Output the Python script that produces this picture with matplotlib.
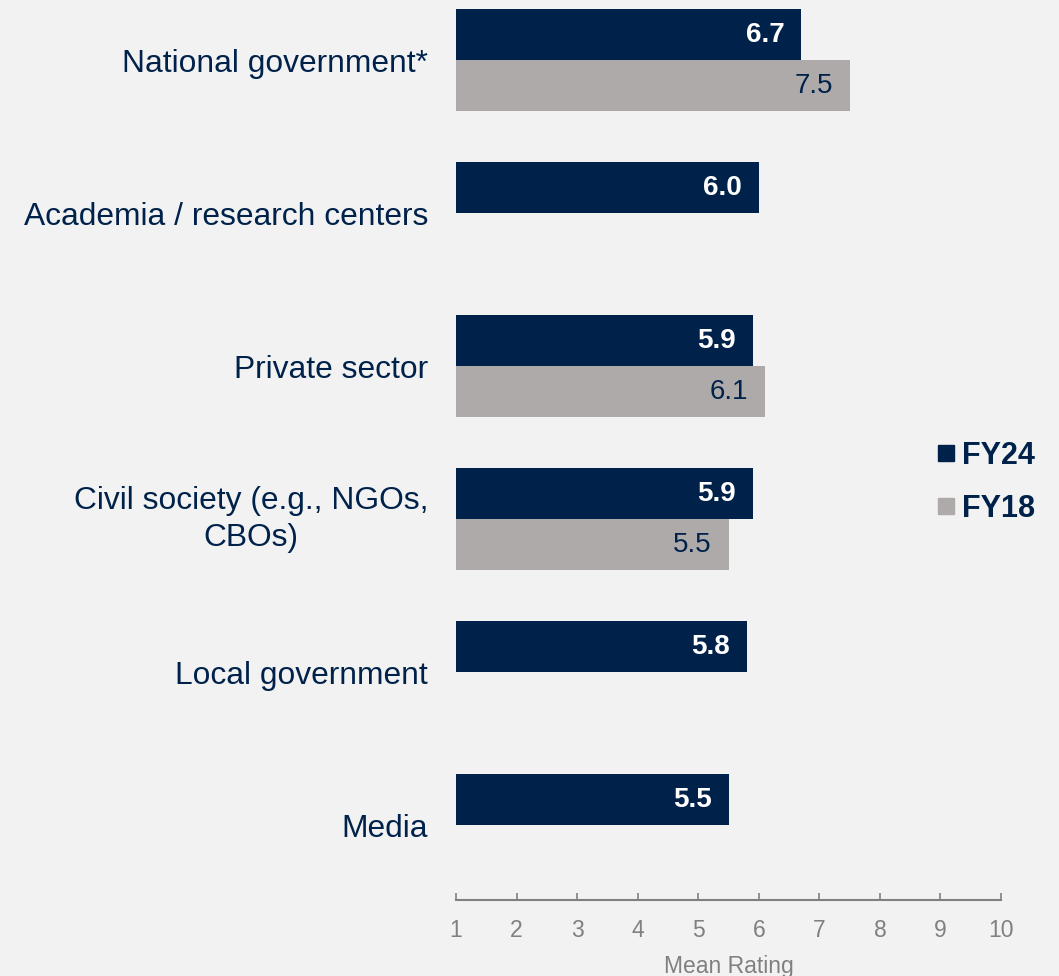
import numpy as np
from matplotlib import pyplot as plt
from matplotlib.lines import Line2D

categories = ['National government*', 'Academia / research centers', 'Private sector',
              'Civil society (e.g., NGOs,\nCBOs)', 'Local government', 'Media']
fy24 = [6.7, 6.0, 5.9, 5.9, 5.8, 5.5]
fy18 = [7.5, None, 6.1, 5.5, None, None]
ticks = [1, 2, 3, 4, 5, 6, 7, 8, 9, 10]

navy = '#00224a'
grey = '#aeaaaa'
axis_grey = '#808080'
bg = '#f2f2f2'

plt.rcParams['font.family'] = ['Liberation Sans', 'DejaVu Sans']

fig = plt.figure(figsize=(10.59, 9.76), dpi=100, facecolor=bg)
ax = fig.add_axes([456 / 1059, 76 / 976, 545 / 1059, 900 / 976])
ax.set_facecolor(bg)

y = np.arange(len(categories))
h = 1 / 3

# FY24 bars (top of each pair)
for i, v in enumerate(fy24):
    ax.barh(y[i] - h / 2, v - 1, left=1, height=h, color=navy)
    ax.annotate(f'{v:.1f}', (v, y[i] - h / 2), xytext=(-12, 0), textcoords='offset points',
                ha='right', va='center', color='white', fontsize=20, fontweight='bold')

# FY18 bars (below)
for i, v in enumerate(fy18):
    if v is None:
        continue
    ax.barh(y[i] + h / 2, v - 1, left=1, height=h, color=grey)
    ax.annotate(f'{v:.1f}', (v, y[i] + h / 2), xytext=(-12, 0), textcoords='offset points',
                ha='right', va='center', color=navy, fontsize=20)

ax.set_xlim(1, 10)
ax.set_ylim(5 + 75 / 153, -60.5 / 153)
ax.set_xticks(ticks)
ax.set_yticks(y)
ax.set_yticklabels(categories, fontsize=22.9, color=navy)
for lbl in ax.get_yticklabels():
    lbl.set_multialignment('center')
    lbl.set_linespacing(1.3)
    if '\n' in lbl.get_text():
        lbl.set_va('center')

for s in ['top', 'right', 'left']:
    ax.spines[s].set_visible(False)
ax.spines['bottom'].set_color(axis_grey)
ax.spines['bottom'].set_linewidth(1.5)
ax.tick_params(axis='y', length=0, pad=20)
ax.tick_params(axis='x', direction='in', length=5, width=1.2, color=axis_grey,
               labelcolor=axis_grey, labelsize=16.5, pad=14)
ax.set_xlabel('Mean Rating', color=axis_grey, fontsize=16.5, labelpad=9)

handles = [Line2D([], [], marker='s', linestyle='none', color=navy, markersize=12.2),
           Line2D([], [], marker='s', linestyle='none', color=grey, markersize=12.2)]
leg = fig.legend(handles, ['FY24', 'FY18'], loc='center left', bbox_to_anchor=(909 / 1059, 1 - 482.5 / 976),
                 frameon=False, handlelength=0.6, handletextpad=0.25, labelspacing=0.75,
                 prop={'size': 22, 'weight': 'bold'})
for t in leg.get_texts():
    t.set_color(navy)

fig.savefig('out.png', dpi=100, facecolor=bg)
